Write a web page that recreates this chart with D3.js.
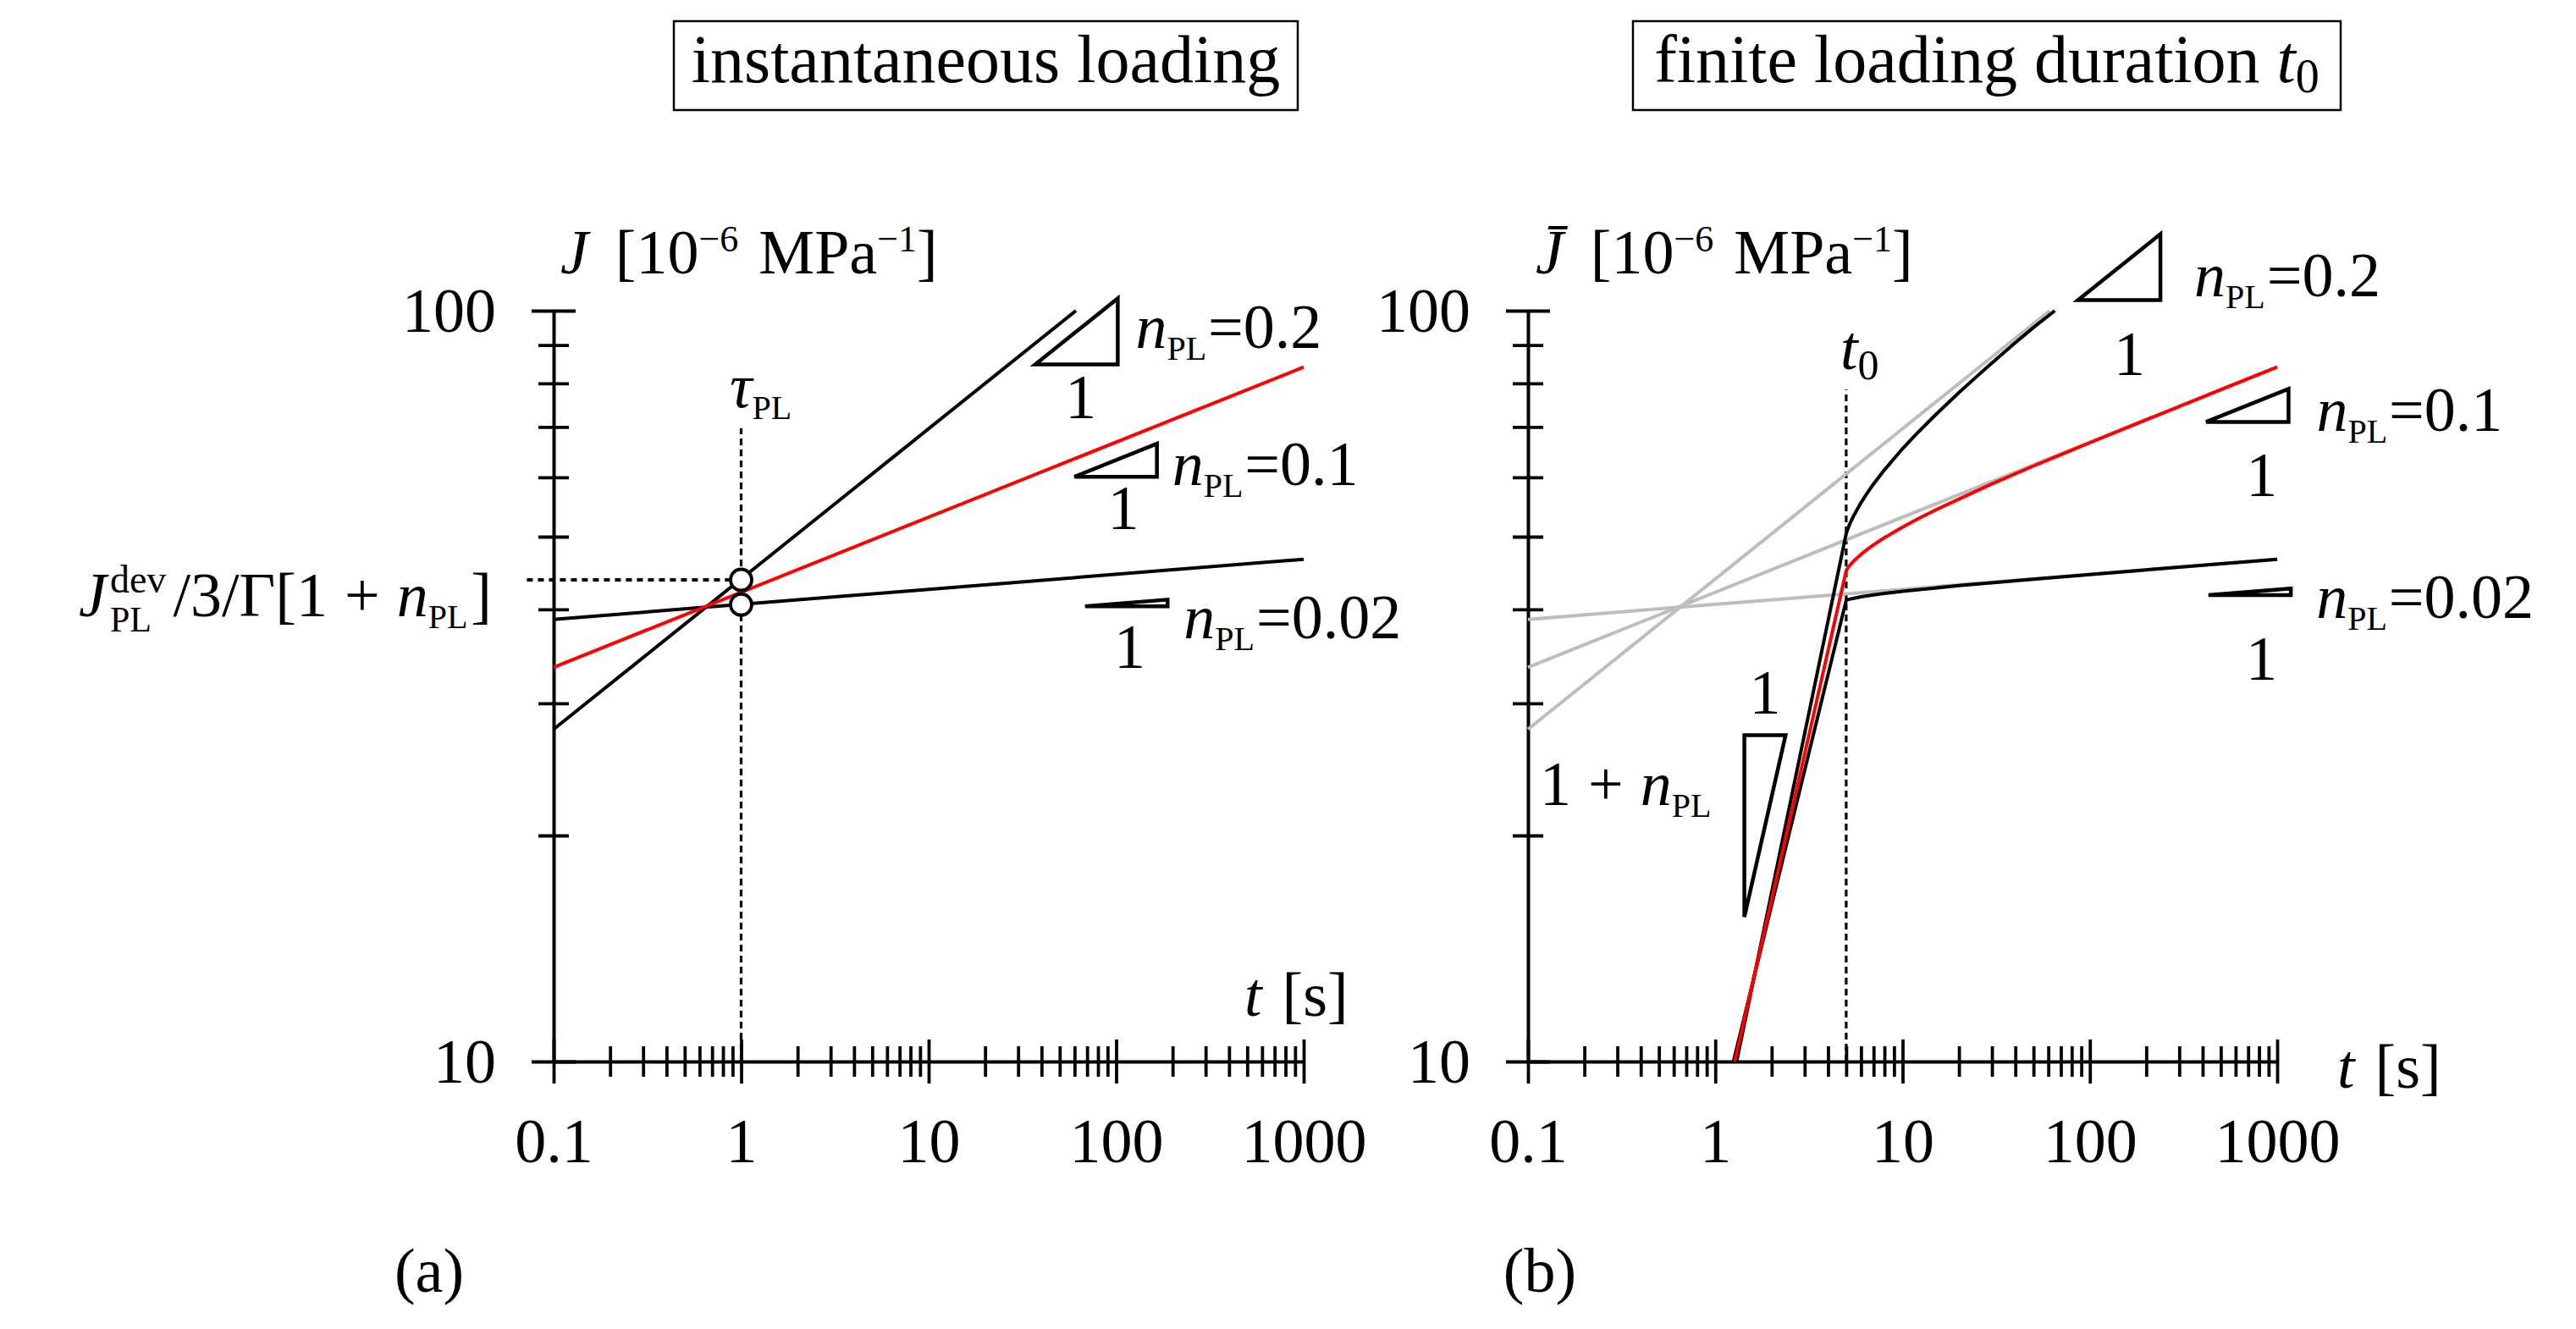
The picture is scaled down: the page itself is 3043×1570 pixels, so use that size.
<!DOCTYPE html>
<html>
<head>
<meta charset="utf-8">
<script src="https://cdn.jsdelivr.net/npm/d3@7"></script>
<style>
  body { margin: 0; background: #fff; }
  svg text { font-family: 'Liberation Serif', serif; fill: #000; }
</style>
</head>
<body>
<div id="chart"></div>
<script>
// values
let tTicks = [0.1, 1, 10, 100, 1000];
let jTicks = [10, 100];

// (a) instantaneous loading, power laws n = 0.02, 0.1, 0.2
let instT = [[0.1, 1000], [0.1, 1000], [0.1, 61]];
let instJ = [[38.8, 46.65], [33.5, 84.1], [27.7, 100]];
let tauPL = 1;
let circleJ = [43.8, 40.6];
let refLineT = [0.072, 1];
let tauLineJ = [10, 69.7];

// (b) finite loading duration t0
let t0 = 5;
let t0LineJ = [10, 78.5];
let rampT02 = [1.25, 2, 3, 4, 5, 5.1, 5.2, 5.5, 6, 7, 8, 10, 20, 50, 100, 200, 500, 1000];
let rampJ02 = [10, 16.16, 24.43, 32.76, 41.14, 41.22, 41.28, 41.40, 41.58, 41.83, 42.01, 42.30, 43.03, 43.90, 44.53, 45.17, 46.01, 46.65];
let rampT10 = [1.27, 2, 3, 4, 5, 5.1, 5.2, 5.3, 5.5, 6, 6.5, 7, 8, 10, 12, 15, 20, 30, 50, 70, 100, 200, 500, 1000];
let rampJ10 = [10, 16.43, 25.67, 35.23, 45.03, 45.41, 45.71, 45.97, 46.43, 47.36, 48.12, 48.76, 49.84, 51.49, 52.77, 54.27, 56.1, 58.8, 62.1, 64.3, 66.7, 71.56, 78.46, 84.11];
let rampT20 = [1.3, 2, 3, 4, 5, 5.1, 5.2, 5.3, 5.5, 6, 6.5, 7, 8, 10, 12, 15, 20, 25, 30, 40, 50, 65];
let rampJ20 = [10, 16.81, 27.34, 38.62, 50.47, 51.22, 51.85, 52.41, 53.40, 55.50, 57.25, 58.78, 61.37, 65.49, 68.73, 72.66, 77.78, 81.80, 85.17, 90.65, 94.97, 100];

// slope triangles: right-angle corner (t, J) and slope
let triN = [0.2, 0.1, 0.02];
let triLabels = ['0.2', '0.1', '0.02'];
let triLeftT = [102, 165, 188];
let triLeftJ = [84.8, 60.1, 40.4];
let triRightT = [238, 1150, 1183];
let triRightJ = [103.3, 71.1, 41.8];
let triDecades = 0.44;
let steepT = 1.43, steepJ = 27.2, steepDecades = 0.22, steepSlope = 1.1;

// layout
let W = 3043, H = 1570;
let FS = 74;
let SUB = 40;
let panels = [{x0: 654, x1: 1540}, {x0: 1805, x1: 2690}];
let yBottom = 1254, yTop = 367;
let gray = '#bdbdbd', red = '#ff0000';
let lw = 4;

let svg = d3.select('#chart')
  .append('svg')
  .attr('width', W)
  .attr('height', H);
svg.append('rect').attr('width', W).attr('height', H).attr('fill', '#fff');

// text built from runs (italic, sub/superscripts)
function rich(parent, x, y, runs, anchor) {
  let g = parent.append('g');
  let cx = 0, held = 0;
  runs.forEach(r => {
    let t = g.append('text')
      .attr('x', cx)
      .attr('y', r.dy || 0)
      .attr('font-size', r.size || FS)
      .attr('font-style', r.i ? 'italic' : 'normal')
      .text(r.t);
    let w = t.node().getComputedTextLength();
    if (r.hold) { held = w; return; }
    cx += Math.max(w, held) + (r.gap || 0);
    held = 0;
  });
  let shift = anchor === 'end' ? cx : anchor === 'middle' ? cx / 2 : 0;
  g.attr('transform', `translate(${x - shift},${y})`);
  return g;
}

let isMajor = d => Math.abs(Math.log10(d) - Math.round(Math.log10(d))) < 1e-9;

function axes(x, y) {
  let xa = svg.append('g')
    .attr('transform', `translate(0,${yBottom})`)
    .call(d3.axisBottom(x).tickValues(x.ticks()).tickSizeOuter(0)
      .tickFormat(d => tTicks.some(v => Math.abs(v - d) < 1e-9) ? String(d) : ''));
  xa.attr('font-family', 'Liberation Serif').attr('font-size', FS);
  xa.select('.domain').attr('stroke-width', 4);
  xa.selectAll('.tick line')
    .attr('y1', d => isMajor(d) ? -26 : -18)
    .attr('y2', d => isMajor(d) ? 26 : 18)
    .attr('stroke-width', 3.8);
  xa.selectAll('.tick text').attr('y', 119).attr('dy', null);

  let ya = svg.append('g')
    .attr('transform', `translate(${x.range()[0]},0)`)
    .call(d3.axisLeft(y).tickValues(y.ticks()).tickSizeOuter(0)
      .tickFormat(d => jTicks.some(v => Math.abs(v - d) < 1e-9) ? String(d) : ''));
  ya.attr('font-family', 'Liberation Serif').attr('font-size', FS);
  ya.select('.domain').attr('stroke-width', 4);
  ya.selectAll('.tick line')
    .attr('x1', d => isMajor(d) ? -26 : -18)
    .attr('x2', d => isMajor(d) ? 26 : 18)
    .attr('stroke-width', 3.8);
  ya.selectAll('.tick text').attr('x', -68).attr('dy', '0.33em');
}

function triangles(x, y, ts, js, nOff, oneOff) {
  triN.forEach((n, i) => {
    let tL = ts[i] / Math.pow(10, triDecades);
    let jT = js[i] * Math.pow(10, n * triDecades);
    let pts = [[x(tL), y(js[i])], [x(ts[i]), y(js[i])], [x(ts[i]), y(jT)]];
    svg.append('path')
      .attr('d', d3.line()(pts) + 'Z')
      .attr('fill', 'none').attr('stroke', '#000')
      .attr('stroke-width', 4.5).attr('stroke-linejoin', 'miter');
    rich(svg, x(ts[i]) + nOff[i][0], y(js[i]) + nOff[i][1],
      [{t: 'n', i: true}, {t: 'PL', size: SUB, dy: 14, gap: 2}, {t: '=' + triLabels[i]}]);
    rich(svg, (x(tL) + x(ts[i])) / 2 + oneOff[i][0], y(js[i]) + oneOff[i][1],
      [{t: '1'}], 'middle');
  });
}

let line = (x, y) => d3.line().x(d => x(d[0])).y(d => y(d[1]));

// ---------- (a) ----------
let xa = d3.scaleLog().domain([0.1, 1000]).range([panels[0].x0, panels[0].x1]);
let ya = d3.scaleLog().domain([10, 100]).range([yBottom, yTop]);

svg.append('path')
  .attr('d', line(xa, ya)([[refLineT[0], circleJ[0]], [refLineT[1], circleJ[0]]]))
  .attr('stroke', '#000').attr('stroke-width', 4).attr('stroke-dasharray', '7,6');
svg.append('path')
  .attr('d', line(xa, ya)([[tauPL, tauLineJ[0]], [tauPL, tauLineJ[1]]]))
  .attr('stroke', '#000').attr('stroke-width', 3.2).attr('stroke-dasharray', '8,5');

axes(xa, ya);

[0, 2, 1].forEach(i => {
  svg.append('path')
    .attr('d', line(xa, ya)(d3.zip(instT[i], instJ[i])))
    .attr('fill', 'none')
    .attr('stroke', i === 1 ? red : '#000')
    .attr('stroke-width', lw);
});

svg.selectAll('circle.tau')
  .data(circleJ)
  .enter()
  .append('circle')
  .attr('class', 'tau')
  .attr('cx', xa(tauPL))
  .attr('cy', d => ya(d))
  .attr('r', 12.5)
  .attr('fill', '#fff')
  .attr('stroke', '#000')
  .attr('stroke-width', 3.8);

triangles(xa, ya, triLeftT, triLeftJ,
  [[21, -20], [18, 10], [19, 38]],
  [[5, 63], [9, 62], [4, 73]]);

rich(svg, 662, 323, [
  {t: 'J', i: true, gap: 32}, {t: '[10'}, {t: '\u22126', size: 44, dy: -26, gap: 24},
  {t: 'MPa'}, {t: '\u22121', size: 44, dy: -26}, {t: ']'}]);
rich(svg, 862, 481, [{t: '\u03c4', i: true}, {t: 'PL', size: SUB, dy: 14}]);
rich(svg, 1470, 1200, [{t: 't', i: true, gap: 24}, {t: '[s]'}]);
rich(svg, 581, 728, [
  {t: 'J', i: true, gap: 4}, {t: 'dev', size: 46, dy: -28, hold: true},
  {t: 'PL', size: 42, dy: 18, gap: 8}, {t: '/3/\u0393[1', gap: 20}, {t: '+', gap: 20},
  {t: 'n', i: true}, {t: 'PL', size: SUB, dy: 14, gap: 4}, {t: ']'}], 'end');

// ---------- (b) ----------
let xb = d3.scaleLog().domain([0.1, 1000]).range([panels[1].x0, panels[1].x1]);
let yb = d3.scaleLog().domain([10, 100]).range([yBottom, yTop]);

svg.append('path')
  .attr('d', line(xb, yb)([[t0, t0LineJ[0]], [t0, t0LineJ[1]]]))
  .attr('stroke', '#000').attr('stroke-width', 3.2).attr('stroke-dasharray', '8,5');

axes(xb, yb);

instT.forEach((ts, i) => {
  svg.append('path')
    .attr('d', line(xb, yb)(d3.zip(ts, instJ[i])))
    .attr('fill', 'none').attr('stroke', gray).attr('stroke-width', lw);
});

[[rampT02, rampJ02, '#000'], [rampT20, rampJ20, '#000'], [rampT10, rampJ10, red]].forEach(c => {
  svg.append('path')
    .attr('d', line(xb, yb)(d3.zip(c[0], c[1])))
    .attr('fill', 'none').attr('stroke', c[2])
    .attr('stroke-width', lw).attr('stroke-linejoin', 'round');
});

triangles(xb, yb, triRightT, triRightJ,
  [[40, -4], [33, 11], [30, 27]],
  [[12, 89], [17, 88], [14, 100]]);

// steep 1 + n triangle
let sBot = steepJ / Math.pow(10, steepSlope * steepDecades);
let sRight = steepT * Math.pow(10, steepDecades);
svg.append('path')
  .attr('d', d3.line()([[xb(steepT), yb(steepJ)], [xb(sRight), yb(steepJ)], [xb(steepT), yb(sBot)]]) + 'Z')
  .attr('fill', 'none').attr('stroke', '#000').attr('stroke-width', 4.5);
rich(svg, (xb(steepT) + xb(sRight)) / 2, yb(steepJ) - 26, [{t: '1'}], 'middle');
rich(svg, 1819, 951, [{t: '1', gap: 20}, {t: '+', gap: 20}, {t: 'n', i: true}, {t: 'PL', size: SUB, dy: 14}]);

rich(svg, 1814, 323, [
  {t: 'J\u0304', i: true, gap: 32}, {t: '[10'}, {t: '\u22126', size: 44, dy: -26, gap: 24},
  {t: 'MPa'}, {t: '\u22121', size: 44, dy: -26}, {t: ']'}]);
rich(svg, 2174, 436, [{t: 't', i: true}, {t: '0', size: 50, dy: 12}]);
rich(svg, 2761, 1285, [{t: 't', i: true, gap: 24}, {t: '[s]'}]);

// ---------- titles ----------
let boxes = [{x0: 796, x1: 1533}, {x0: 1929, x1: 2765}];
boxes.forEach(b => {
  svg.append('rect')
    .attr('x', b.x0).attr('y', 25)
    .attr('width', b.x1 - b.x0).attr('height', 105)
    .attr('fill', 'none').attr('stroke', '#000').attr('stroke-width', 2.5);
});
rich(svg, (boxes[0].x0 + boxes[0].x1) / 2, 97, [{t: 'instantaneous loading', size: 80}], 'middle');
rich(svg, (boxes[1].x0 + boxes[1].x1) / 2, 97, [
  {t: 'finite loading duration', size: 80, gap: 20}, {t: 't', i: true, size: 80},
  {t: '0', size: 56, dy: 12}], 'middle');

rich(svg, 507, 1526, [{t: '(a)'}], 'middle');
rich(svg, 1819, 1526, [{t: '(b)'}], 'middle');
</script>
</body>
</html>
